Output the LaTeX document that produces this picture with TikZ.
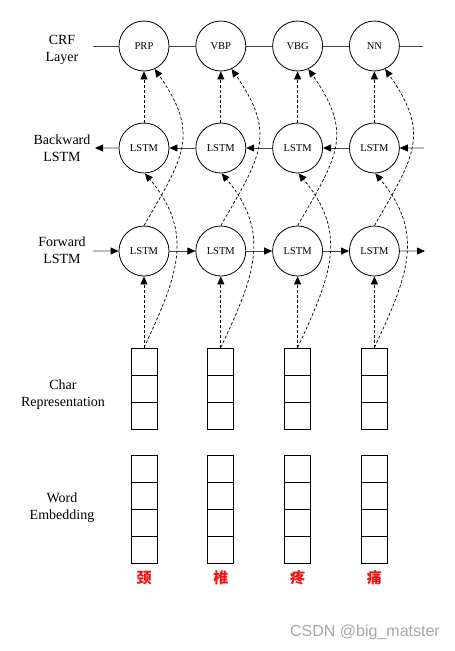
\documentclass[tikz,border=0pt]{standalone}
\usepackage{fontspec}
\setmainfont{Liberation Serif}
\newfontfamily\cjk{Noto Sans CJK SC}
\newfontfamily\wmfont{Liberation Sans}
\usepackage{xcolor}
\usepackage{tikz}
\usetikzlibrary{arrows.meta, positioning, shapes.multipart}
\definecolor{linegray}{RGB}{70, 70, 70}
\definecolor{tokenred}{RGB}{240, 20, 20}

\begin{document}
\begin{tikzpicture}[
    x=1pt, y=1pt,
    cell/.style={circle, draw, line width=0.8pt, minimum size=50pt, inner sep=0pt, font=\fontsize{10.5}{12}\selectfont},
    vec/.style={rectangle split, rectangle split parts=#1, draw, line width=0.8pt, inner sep=0pt, minimum width=26pt, rectangle split empty part width=0pt, rectangle split empty part height=26.2pt, rectangle split empty part depth=0pt},
    lab/.style={align=center, font=\fontsize{14}{17}\selectfont},
    tok/.style={font=\cjk\bfseries\fontsize{15}{15}\selectfont, text=tokenred},
    link/.style={draw=linegray, line width=0.8pt},
    arrow/.style={-{Triangle[length=8pt, width=7pt, black]}, line width=0.8pt, draw=linegray},
    dasharrow/.style={-{Triangle[length=8pt, width=7pt]}, line width=0.7pt, dash pattern=on 3pt off 2pt}
]
\useasboundingbox (0,0) rectangle (455,-651);

% CRF layer
\node[cell] (crf1) at (144,-46) {PRP};
\node[cell, right=26pt of crf1] (crf2) {VBP};
\node[cell, right=26pt of crf2] (crf3) {VBG};
\node[cell, right=26pt of crf3] (crf4) {NN};

% Backward LSTM
\node[cell, below=51.2pt of crf1] (bw1) {LSTM};
\node[cell, right=26pt of bw1] (bw2) {LSTM};
\node[cell, right=26pt of bw2] (bw3) {LSTM};
\node[cell, right=26pt of bw3] (bw4) {LSTM};

% Forward LSTM
\node[cell, below=52.2pt of bw1] (fw1) {LSTM};
\node[cell, right=26pt of fw1] (fw2) {LSTM};
\node[cell, right=26pt of fw2] (fw3) {LSTM};
\node[cell, right=26pt of fw3] (fw4) {LSTM};

% Char representation
\node[vec=3, below=71.2pt of fw1] (chr1) {};
\node[vec=3, below=71.2pt of fw2] (chr2) {};
\node[vec=3, below=71.2pt of fw3] (chr3) {};
\node[vec=3, below=71.2pt of fw4] (chr4) {};

% Word embedding
\node[vec=4, below=26pt of chr1] (wrd1) {};
\node[vec=4, below=26pt of chr2] (wrd2) {};
\node[vec=4, below=26pt of chr3] (wrd3) {};
\node[vec=4, below=26pt of chr4] (wrd4) {};

% Tokens
\node[tok, below=3pt of wrd1] (tok1) {颈};
\node[tok, below=3pt of wrd2] (tok2) {椎};
\node[tok, below=3pt of wrd3] (tok3) {疼};
\node[tok, below=3pt of wrd4] (tok4) {痛};

% Row labels
\node[lab] (crflab) at (62,-50) {CRF\\Layer};
\node[lab] (bwlab) at (62,-148) {Backward\\LSTM};
\node[lab] (fwlab) at (62,-250) {Forward\\LSTM};
\node[lab] (chrlab) at (63,-395) {Char\\Representation};
\node[lab] (wrdlab) at (62,-508) {Word\\Embedding};

% CRF chain
\coordinate (crfL) at (93,-46);
\coordinate (crfR) at (423,-46);
\draw[link] (crfL) -- (crf1) (crf1) -- (crf2) (crf2) -- (crf3) (crf3) -- (crf4) (crf4) -- (crfR);

% Backward chain
\coordinate (bwL) at (95,-148);
\coordinate (bwR) at (424,-148);
\draw[arrow] (bwR) -- (bw4);
\draw[arrow] (bw4) -- (bw3);
\draw[arrow] (bw3) -- (bw2);
\draw[arrow] (bw2) -- (bw1);
\draw[arrow] (bw1) -- (bwL);

% Forward chain
\coordinate (fwL) at (93,-251);
\coordinate (fwR) at (425,-251);
\draw[arrow] (fwL) -- (fw1);
\draw[arrow] (fw1) -- (fw2);
\draw[arrow] (fw2) -- (fw3);
\draw[arrow] (fw3) -- (fw4);
\draw[arrow] (fw4) -- (fwR);

% Dashed links
\foreach \i in {1,...,4} {
    \draw[dasharrow] (chr\i.north) -- (fw\i);
    \draw[dasharrow] (bw\i) -- (crf\i);
    \draw[dasharrow] (chr\i.north) to[out=65, in=-50, looseness=1.15] (bw\i.-88);
    \draw[dasharrow] (fw\i.north) to[out=60, in=-55, looseness=1.3] (crf\i.-65);
}

% Watermark
\node[font=\wmfont\fontsize{16}{16}\selectfont, text=gray!70] (mark) at (365,-632) {CSDN @big\_matster};

\end{tikzpicture}
\end{document}
